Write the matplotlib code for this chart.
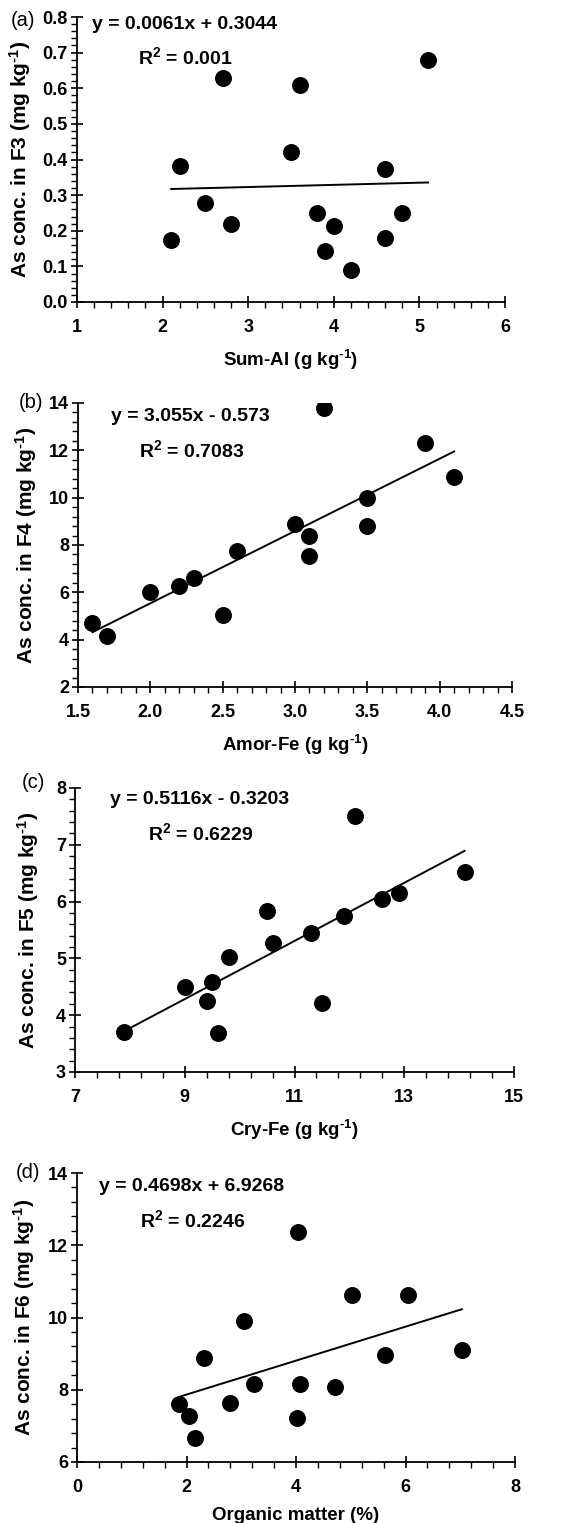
import numpy as np
import matplotlib
matplotlib.use('Agg')
import matplotlib.pyplot as plt
from matplotlib.ticker import MultipleLocator, AutoMinorLocator, FormatStrFormatter

plt.rcParams['font.family'] = ['Liberation Sans', 'DejaVu Sans']
plt.rcParams['font.weight'] = 'bold'
plt.rcParams['mathtext.fontset'] = 'custom'
plt.rcParams['mathtext.rm'] = 'Liberation Sans:bold'
plt.rcParams['mathtext.bf'] = 'Liberation Sans:bold'
plt.rcParams['mathtext.default'] = 'bf'

# (a) Sum-Al vs F3
sum_al = [2.1, 2.2, 2.5, 2.7, 2.8, 3.5, 3.6, 3.8, 3.9, 4.0, 4.2, 4.6, 4.6, 4.8, 5.1]
f3 = [0.175, 0.383, 0.279, 0.630, 0.220, 0.421, 0.610, 0.251, 0.142, 0.212, 0.091, 0.372, 0.180, 0.251, 0.680]

# (b) Amor-Fe vs F4
amor_fe = [1.6, 1.7, 2.0, 2.2, 2.3, 2.5, 2.6, 3.0, 3.1, 3.1, 3.2, 3.5, 3.5, 3.9, 4.1]
f4 = [4.70, 4.14, 6.01, 6.25, 6.60, 5.04, 7.76, 8.89, 8.37, 7.52, 13.79, 10.0, 8.80, 12.31, 10.87]

# (c) Cry-Fe vs F5
cry_fe = [7.9, 9.0, 9.4, 9.5, 9.6, 9.8, 10.5, 10.6, 11.3, 11.5, 11.9, 12.1, 12.6, 12.9, 14.1]
f5 = [3.71, 4.49, 4.25, 4.58, 3.69, 5.02, 5.83, 5.27, 5.44, 4.22, 5.75, 7.51, 6.04, 6.16, 6.52]

# (d) Organic matter vs F6
om = [1.87, 2.05, 2.15, 2.32, 2.80, 3.05, 3.24, 4.02, 4.03, 4.08, 4.71, 5.02, 5.63, 6.05, 7.03]
f6 = [7.60, 7.28, 6.66, 8.87, 7.64, 9.91, 8.17, 7.23, 12.38, 8.15, 8.08, 10.61, 8.96, 10.61, 9.09]

# fitted lines as printed on the figure
fits = [(0.0061, 0.3044, 'y = 0.0061x + 0.3044', '0.001'),
        (3.055, -0.573, 'y = 3.055x - 0.573', '0.7083'),
        (0.5116, -0.3203, 'y = 0.5116x - 0.3203', '0.6229'),
        (0.4698, 6.9268, 'y = 0.4698x + 6.9268', '0.2246')]

unit = r'(g kg$^{\text{-}1}$)'
yunit = r'(mg kg$^{\text{-}1}$)'

panels = [
    dict(x=sum_al, y=f3, xlim=(1, 6), ylim=(0, 0.8), xmaj=(1, 0), ymaj=0.1, xfmt='%d', yfmt='%.1f',
         xlabel='Sum-Al ' + unit, ylabel='As conc. in F3 ' + yunit, tag='(a)',
         pos=[77, 17, 505, 302], ylabx=33, eq=(0.035, 0.972), r2=(0.143, 0.86), tagxy=(11, 21)),
    dict(x=amor_fe, y=f4, xlim=(1.5, 4.5), ylim=(2, 14), xmaj=(0.5, 0), ymaj=2, xfmt='%.1f', yfmt='%d',
         xlabel='Amor-Fe ' + unit, ylabel='As conc. in F4 ' + yunit, tag='(b)',
         pos=[78, 403, 512, 687], ylabx=39, eq=(0.076, 0.951), r2=(0.141, 0.835), tagxy=(19, 403)),
    dict(x=cry_fe, y=f5, xlim=(7, 15), ylim=(3, 8), xmaj=(2, 1), ymaj=1, xfmt='%d', yfmt='%d',
         xlabel='Cry-Fe ' + unit, ylabel='As conc. in F5 ' + yunit, tag='(c)',
         pos=[75, 788, 514, 1072], ylabx=41, eq=(0.08, 0.958), r2=(0.166, 0.84), tagxy=(22, 783)),
    dict(x=om, y=f6, xlim=(0, 8), ylim=(6, 14), xmaj=(2, 0), ymaj=2, xfmt='%d', yfmt='%d',
         xlabel='Organic matter (%)', ylabel='As conc. in F6 ' + yunit, tag='(d)',
         pos=[77, 1173, 515, 1462], ylabx=37, eq=(0.05, 0.952), r2=(0.144, 0.837), tagxy=(16, 1173)),
]

W, H = 587, 1523
fig = plt.figure(figsize=(W / 100, H / 100), dpi=100)

for p, (m, b, eqtxt, r2txt) in zip(panels, fits):
    x0, y0, x1, y1 = p['pos']
    ax = fig.add_axes([x0 / W, 1 - y1 / H, (x1 - x0) / W, (y1 - y0) / H])
    ax.scatter(p['x'], p['y'], s=125, color='black', zorder=3)
    xs = np.array([min(p['x']), max(p['x'])])
    ax.plot(xs, m * xs + b, color='black', lw=1.4)

    ax.set_xlim(*p['xlim'])
    ax.set_ylim(*p['ylim'])
    ax.xaxis.set_major_locator(MultipleLocator(p['xmaj'][0], offset=p['xmaj'][1]))
    ax.yaxis.set_major_locator(MultipleLocator(p['ymaj']))
    ax.xaxis.set_minor_locator(AutoMinorLocator(5))
    ax.yaxis.set_minor_locator(AutoMinorLocator(5))
    ax.xaxis.set_major_formatter(FormatStrFormatter(p['xfmt']))
    ax.yaxis.set_major_formatter(FormatStrFormatter(p['yfmt']))
    ax.spines['top'].set_visible(False)
    ax.spines['right'].set_visible(False)
    for s in ('left', 'bottom'):
        ax.spines[s].set_linewidth(1.3)
    ax.tick_params(which='major', direction='inout', length=9, width=1.2, labelsize=13)
    ax.tick_params(which='minor', direction='out', length=4, width=1.0)
    ax.tick_params(axis='x', which='major', pad=8)
    ax.tick_params(axis='y', which='major', pad=2)
    for t in ax.get_xticklabels() + ax.get_yticklabels():
        t.set_fontweight('bold')

    ax.set_xlabel(p['xlabel'], fontsize=13.5, fontweight='bold', labelpad=8)
    ax.set_ylabel(p['ylabel'], fontsize=15, fontweight='bold')
    ax.yaxis.set_label_coords((p['ylabx'] - x0) / (x1 - x0), 0.5)

    ax.text(p['eq'][0], p['eq'][1], eqtxt, transform=ax.transAxes, fontsize=14,
            fontweight='bold', ha='left', va='center')
    ax.text(p['r2'][0], p['r2'][1], 'R$^{2}$ = ' + r2txt, transform=ax.transAxes, fontsize=14,
            fontweight='bold', ha='left', va='center')
    fig.text(p['tagxy'][0] / W, 1 - p['tagxy'][1] / H, p['tag'], fontsize=14.5,
             fontweight='normal', ha='left', va='center')

fig.savefig('out.png', dpi=100)
